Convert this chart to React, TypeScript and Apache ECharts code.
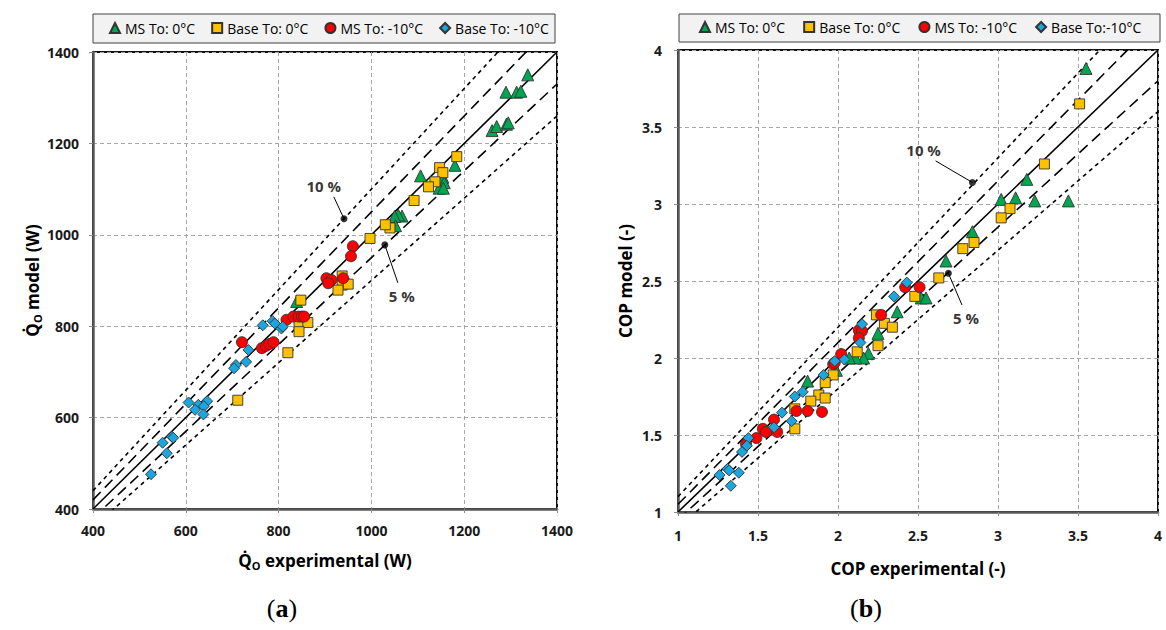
import React, { useEffect, useRef } from 'react';
import * as echarts from 'echarts';

// ---------- DATA ----------
const namesA = ['MS To: 0°C', 'Base To: 0°C', 'MS To: -10°C', 'Base To: -10°C'];
const namesB = ['MS To: 0°C', 'Base To: 0°C', 'MS To: -10°C', 'Base To:-10°C'];

// (a) cooling capacity [experimental, model] (W)
const qMs0 = [
  [1337, 1350], [1290, 1312], [1313, 1312], [1322, 1314], [1260, 1228], [1270, 1237],
  [1291, 1242], [1295, 1245], [1180, 1152], [1106, 1129], [1154, 1126], [1157, 1114],
  [1146, 1102], [1155, 1102], [1066, 1041], [1058, 1043], [1050, 1040], [1052, 1020], [839, 854],
];
const qBase0 = [
  [1184, 1171], [1147, 1147], [1154, 1136], [1137, 1116], [1123, 1105], [1092, 1075],
  [1040, 1015], [1030, 1022], [997, 992], [937, 910], [937, 890], [950, 892], [928, 879],
  [848, 857], [844, 806], [863, 808], [844, 788], [820, 742], [712, 638],
];
const qMs10 = [
  [960, 975], [956, 953], [903, 905], [910, 897], [914, 901], [907, 894], [939, 905],
  [817, 814], [832, 821], [843, 821], [850, 821], [855, 821], [721, 765], [764, 752],
  [773, 757], [780, 761], [789, 765],
];
const qBase10 = [
  [766, 802], [787, 811], [792, 806], [806, 795], [809, 799], [735, 748], [730, 722],
  [708, 715], [704, 708], [606, 633], [627, 628], [646, 636], [639, 625], [620, 617],
  [638, 607], [570, 558], [573, 556], [550, 545], [559, 522], [525, 476],
];

// (b) COP [experimental, model]
const copMs0 = [
  [3.55, 3.88], [3.18, 3.16], [3.02, 3.03], [3.11, 3.04], [3.23, 3.02], [3.44, 3.02],
  [2.84, 2.82], [2.675, 2.63], [2.52, 2.39], [2.55, 2.39], [2.37, 2.3], [2.25, 2.16],
  [2.19, 2.03], [2.16, 2.0], [2.11, 2.0], [2.07, 2.0], [1.99, 1.92], [1.81, 1.85],
];
const copBase0 = [
  [3.51, 3.65], [3.29, 3.26], [3.075, 2.97], [3.02, 2.91], [2.85, 2.75], [2.78, 2.71],
  [2.63, 2.52], [2.48, 2.4], [2.24, 2.28], [2.29, 2.225], [2.34, 2.2], [2.25, 2.08],
  [2.12, 2.04], [1.97, 1.89], [1.92, 1.84], [1.88, 1.76], [1.92, 1.74], [1.83, 1.72],
  [1.73, 1.67], [1.73, 1.54],
];
const copMs10 = [
  [2.42, 2.46], [2.51, 2.46], [2.27, 2.28], [2.13, 2.18], [2.15, 2.175], [2.13, 2.13],
  [2.02, 2.026], [1.97, 1.96], [1.98, 1.97], [1.9, 1.65], [1.74, 1.656], [1.81, 1.656],
  [1.6, 1.6], [1.53, 1.54], [1.55, 1.52], [1.62, 1.52], [1.49, 1.48], [1.425, 1.44],
];
const copBase10 = [
  [2.43, 2.49], [2.35, 2.4], [2.15, 2.22], [2.14, 2.1], [2.04, 1.99], [1.98, 1.98],
  [1.91, 1.89], [1.78, 1.78], [1.73, 1.75], [1.65, 1.645], [1.71, 1.59], [1.6, 1.55],
  [1.44, 1.48], [1.43, 1.43], [1.4, 1.39], [1.26, 1.24], [1.31, 1.28], [1.32, 1.27],
  [1.38, 1.255], [1.33, 1.17],
];

// reference lines (model = ratio * experimental)
const refRatios = [1, 1.05, 0.95, 1.1, 0.9];
const bandLabels = ['10 %', '5 %'];
// marker dots on the ±10 % / ±5 % lines and leader-line ends
const qBandDots = [[941, 1035], [1029, 978]];
const qBandEnds = [[919, 1083], [1057, 895]];
const copBandDots = [[2.84, 3.14], [2.69, 2.55]];
const copBandEnds = [[2.61, 3.28], [2.775, 2.344]];

const qRange = [400, 1400, 200];
const copRange = [1, 4, 0.5];

// ---------- STYLE ----------
const FONT = 'Open Sans';
const colors = ['#00A650', '#FFC000', '#FF0000', '#1BA6E0'];
const symbols = ['triangle', 'rect', 'circle', 'diamond'];
const sizes = [12, 10, 11, 11];

function buildOption() {
  const axisCommon = (gridIndex: number, range: number[], margin: number) => ({
    type: 'value',
    gridIndex,
    min: range[0],
    max: range[1],
    interval: range[2],
    axisLine: { show: true, onZero: false, lineStyle: { color: '#595959', width: 2.5 } },
    axisTick: { show: true, length: 4, lineStyle: { color: '#8c8c8c', width: 1 } },
    splitLine: { show: true, lineStyle: { color: '#a6a6a6', type: [4, 3], width: 1 } },
    axisLabel: {
      fontFamily: FONT,
      fontWeight: 'bold',
      fontSize: 14,
      color: '#1a1a1a',
      margin,
      formatter: (v: number) => String(v),
    },
    nameLocation: 'middle',
  });

  const nameRich = {
    q: { fontFamily: FONT, fontWeight: 'bold', fontSize: 17, color: '#000', lineHeight: 22 },
    s: { fontFamily: FONT, fontWeight: 'bold', fontSize: 11, color: '#000', lineHeight: 12, verticalAlign: 'bottom' },
    t: { fontFamily: FONT, fontWeight: 'bold', fontSize: 17, color: '#000', lineHeight: 22 },
  };

  const series: any[] = [];
  const addRefs = (gi: number, range: number[]) => {
    refRatios.forEach((r) => {
      const type = r === 1 ? 'solid' : Math.abs(r - 1) < 0.07 ? [11, 6] : [4, 4];
      series.push({
        type: 'line',
        xAxisIndex: gi,
        yAxisIndex: gi,
        silent: true,
        symbol: 'none',
        clip: true,
        z: 1,
        lineStyle: { color: '#000', width: 1.6, type },
        data: [[range[0], range[0] * r], [range[1], range[1] * r]],
      });
    });
  };
  addRefs(0, qRange);
  addRefs(1, copRange);

  const addScatter = (gi: number, names: string[], sets: number[][][]) => {
    sets.forEach((d, i) => {
      series.push({
        type: 'scatter',
        name: names[i],
        xAxisIndex: gi,
        yAxisIndex: gi,
        symbol: symbols[i],
        symbolSize: sizes[i],
        z: 3,
        itemStyle: { color: colors[i], borderColor: '#333', borderWidth: 0.9, opacity: 1 },
        data: d,
      });
    });
  };
  addScatter(0, namesA, [qMs0, qBase0, qMs10, qBase10]);
  addScatter(1, namesB, [copMs0, copBase0, copMs10, copBase10]);

  const addBands = (gi: number, dots: number[][], ends: number[][], offsets: any[]) => {
    dots.forEach((dot, i) => {
      series.push({
        type: 'line',
        xAxisIndex: gi,
        yAxisIndex: gi,
        silent: true,
        symbol: 'none',
        z: 4,
        lineStyle: { color: '#000', width: 1 },
        data: [dot, ends[i]],
      });
      series.push({
        type: 'scatter',
        xAxisIndex: gi,
        yAxisIndex: gi,
        silent: true,
        symbol: 'circle',
        symbolSize: 7,
        z: 5,
        itemStyle: { color: '#000' },
        data: [dot],
      });
      series.push({
        type: 'scatter',
        xAxisIndex: gi,
        yAxisIndex: gi,
        silent: true,
        symbolSize: 1,
        z: 5,
        itemStyle: { color: 'rgba(0,0,0,0)' },
        label: {
          show: true,
          formatter: bandLabels[i],
          position: offsets[i].pos,
          offset: offsets[i].off,
          distance: 3,
          fontFamily: FONT,
          fontWeight: 'bold',
          fontSize: 15,
          color: '#000',
        },
        data: [ends[i]],
      });
    });
  };
  addBands(0, qBandDots, qBandEnds, [
    { pos: 'top', off: [-10, 0] },
    { pos: 'bottom', off: [4, 2] },
  ]);
  addBands(1, copBandDots, copBandEnds, [
    { pos: 'top', off: [-12, 0] },
    { pos: 'bottom', off: [4, 2] },
  ]);

  const legendCommon = {
    orient: 'horizontal',
    selectedMode: false,
    itemWidth: 10,
    itemHeight: 10,
    width: 600,
    textStyle: { fontFamily: FONT, fontSize: 14, color: '#000' },
    padding: 0,
  };

  const labelText = (x: number, letter: string) => ({
    type: 'text',
    x,
    y: 608,
    style: {
      text: '{p|(}{b|' + letter + '}{p|)}',
      align: 'center',
      verticalAlign: 'middle',
      rich: {
        p: { fontFamily: 'Liberation Serif', fontSize: 26, fill: '#000' },
        b: { fontFamily: 'Liberation Serif', fontSize: 26, fontWeight: 'bold', fill: '#000' },
      },
    },
  });

  return {
    animation: false,
    backgroundColor: '#fff',
    grid: [
      { left: 93, top: 52, width: 464, height: 457, show: true, borderColor: '#111', borderWidth: 2, backgroundColor: '#fff' },
      { left: 678, top: 50, width: 480, height: 462, show: true, borderColor: '#111', borderWidth: 2, backgroundColor: '#fff' },
    ],
    xAxis: [
      {
        ...axisCommon(0, qRange, 14),
        name: '{q|Q\u0307}{s|O}{t| experimental (W)}',
        nameGap: 40,
        nameTextStyle: { rich: nameRich },
      },
      {
        ...axisCommon(1, copRange, 16),
        name: 'COP experimental (-)',
        nameGap: 48,
        nameTextStyle: { fontFamily: FONT, fontWeight: 'bold', fontSize: 17, color: '#000' },
      },
    ],
    yAxis: [
      {
        ...axisCommon(0, qRange, 14),
        name: '{q|Q\u0307}{s|O}{t| model (W)}',
        nameGap: 40,
        nameTextStyle: { rich: nameRich },
      },
      {
        ...axisCommon(1, copRange, 16),
        name: 'COP model (-)',
        nameGap: 44,
        nameTextStyle: { fontFamily: FONT, fontWeight: 'bold', fontSize: 17, color: '#000' },
      },
    ],
    legend: [
      {
        ...legendCommon,
        left: 109,
        top: 21,
        itemGap: 16,
        data: namesA.map((n, i) => ({ name: n, icon: symbols[i] })),
      },
      {
        ...legendCommon,
        left: 699,
        top: 20,
        itemGap: 18,
        data: namesB.map((n, i) => ({ name: n, icon: symbols[i] })),
      },
    ],
    graphic: [
      { type: 'rect', z: -1, shape: { x: 93, y: 14, width: 462, height: 29 }, style: { fill: '#f2f2f2', stroke: '#404040', lineWidth: 1 } },
      { type: 'rect', z: -1, shape: { x: 679, y: 14, width: 481, height: 28 }, style: { fill: '#f2f2f2', stroke: '#404040', lineWidth: 1 } },
      labelText(282, 'a'),
      labelText(866, 'b'),
    ],
    series,
  };
}

export default function App() {
  const ref = useRef<HTMLDivElement>(null);
  useEffect(() => {
    if (!ref.current) return;
    const chart = echarts.init(ref.current, undefined, { renderer: 'svg' });
    chart.setOption(buildOption() as any);
    return () => chart.dispose();
  }, []);
  return (
    <div
      ref={ref}
      style={{ position: 'absolute', left: 0, top: 0, width: 1166, height: 630, background: '#fff' }}
    />
  );
}
